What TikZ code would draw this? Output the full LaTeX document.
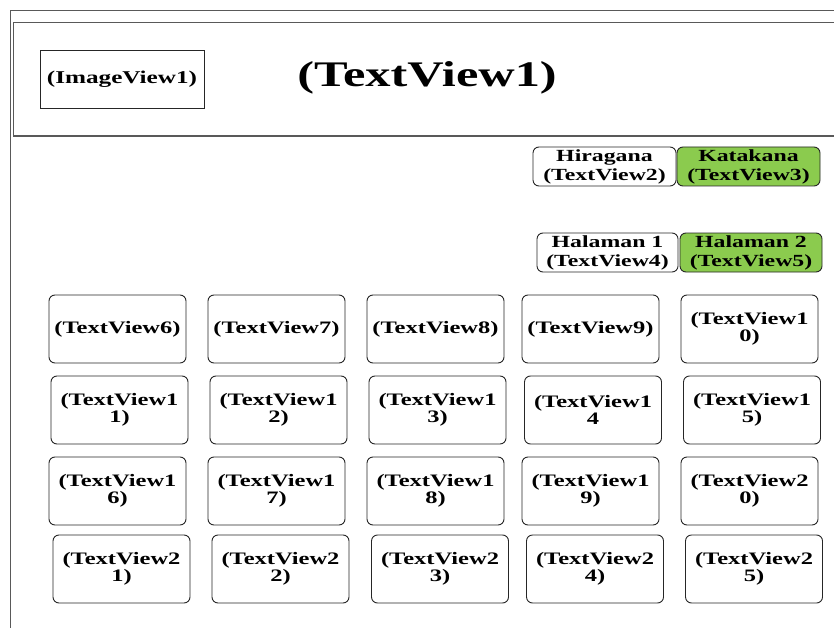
\documentclass[tikz,border=0pt]{standalone}
\usepackage{fontspec}
\setmainfont{Liberation Serif}[FakeStretch=1.4]
\begin{document}
\begin{tikzpicture}[x=1pt,y=-1pt,
  frameline/.style={draw=black!65,line width=1.1pt},
  plainbox/.style={draw=black!85,line width=0.9pt,inner sep=0pt},
  tab/.style={draw=black!85,line width=0.9pt,rounded corners=6pt,inner sep=0pt,
    minimum height=39pt,align=center,font=\bfseries\fontsize{17}{19}\selectfont},
  tabon/.style={tab,fill=tabgreen},
  cell/.style={draw=black!85,line width=0.9pt,rounded corners=6pt,inner sep=0pt,
    minimum width=137pt,minimum height=68pt,align=center,
    font=\bfseries\fontsize{17.5}{16.5}\selectfont}]
\definecolor{tabgreen}{RGB}{139,203,78}
\useasboundingbox (0,0) rectangle (834,628);
\fill[white] (0,0) rectangle (834,628);

% outer frame and header band
\draw[frameline] (834,10.5) -- (10.5,10.5) -- (10.5,628);
\draw[frameline] (834,22.5) -- (13.5,22.5) -- (13.5,136) -- (834,136);

% header
\node[plainbox,minimum width=164pt,minimum height=58pt,
  font=\bfseries\fontsize{18}{19}\selectfont] (img1) at (122,79) {(ImageView1)};
\node[font=\bfseries\fontsize{36}{38}\selectfont] (tv1) at (427,78) {(TextView1)};

% tabs
\node[tab,minimum width=143pt] (tv2) at (604.5,166.5) {Hiragana\\(TextView2)};
\node[tabon,minimum width=143pt] (tv3) at (748.5,166.5) {Katakana\\(TextView3)};
\node[tab,minimum width=141pt] (tv4) at (607.5,252.5) {Halaman 1\\(TextView4)};
\node[tabon,minimum width=142pt] (tv5) at (751,252.5) {Halaman 2\\(TextView5)};

% grid row 1
\node[cell] (tv6)  at (117.5,329) {(TextView6)};
\node[cell] (tv7)  at (276.5,329) {(TextView7)};
\node[cell] (tv8)  at (435.5,329) {(TextView8)};
\node[cell] (tv9)  at (590.5,329) {(TextView9)};
\node[cell] (tv10) at (749.5,329) {(TextView1\\0)};
% grid row 2
\node[cell] (tv11) at (119.5,410) {(TextView1\\1)};
\node[cell] (tv12) at (278.5,410) {(TextView1\\2)};
\node[cell] (tv13) at (437.5,410) {(TextView1\\3)};
\node[cell] (tv14) at (593,410)   {(TextView1\\4};
\node[cell] (tv15) at (752,410)   {(TextView1\\5)};
% grid row 3
\node[cell] (tv16) at (117.5,491) {(TextView1\\6)};
\node[cell] (tv17) at (276.5,491) {(TextView1\\7)};
\node[cell] (tv18) at (435.5,491) {(TextView1\\8)};
\node[cell] (tv19) at (590.5,491) {(TextView1\\9)};
\node[cell] (tv20) at (749.5,491) {(TextView2\\0)};
% grid row 4
\node[cell] (tv21) at (121.5,569) {(TextView2\\1)};
\node[cell] (tv22) at (280.5,569) {(TextView2\\2)};
\node[cell] (tv23) at (440,569)   {(TextView2\\3)};
\node[cell] (tv24) at (595,569)   {(TextView2\\4)};
\node[cell] (tv25) at (754,569)   {(TextView2\\5)};
\end{tikzpicture}
\end{document}
